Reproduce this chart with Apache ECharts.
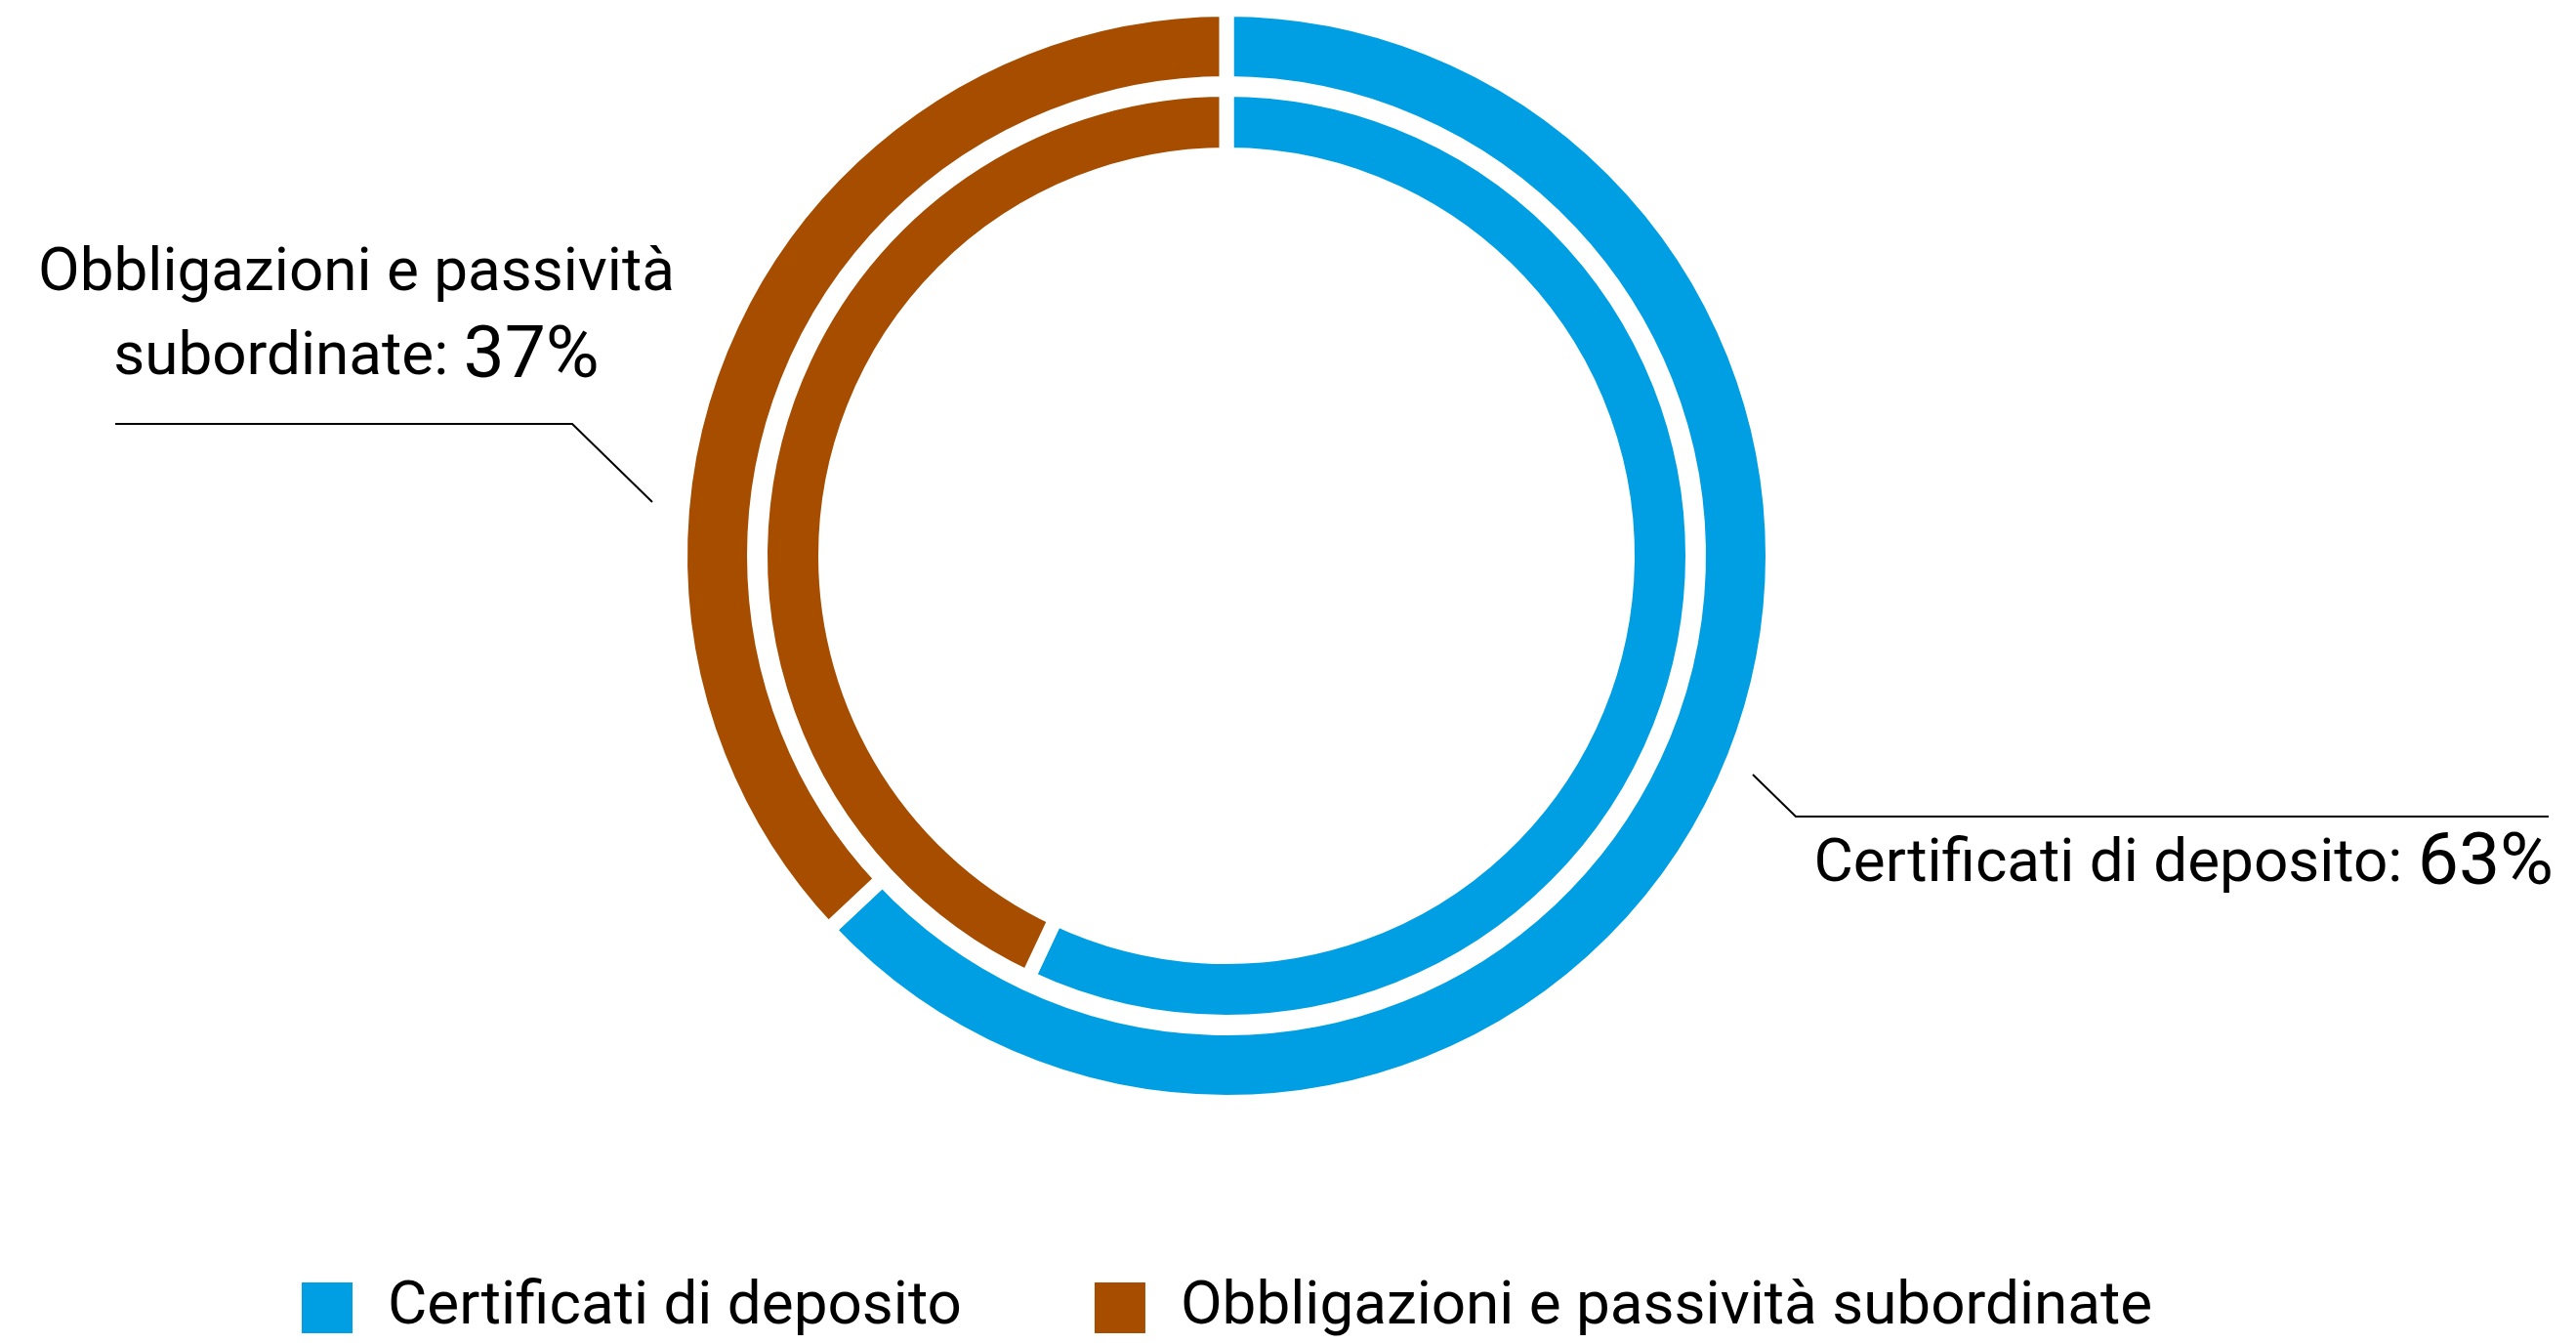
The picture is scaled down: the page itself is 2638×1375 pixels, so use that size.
<!DOCTYPE html>
<html>
<head>
<meta charset="utf-8">
<title>Certificati di deposito / Obbligazioni</title>
<script src="https://cdn.jsdelivr.net/npm/echarts@6/dist/echarts.min.js"></script>
<style>
  html, body { margin: 0; padding: 0; background: #fff; }
  #chart { width: 2638px; height: 1375px; }
</style>
</head>
<body>
<div id="chart"></div>
<script>
// categories and values
var categories = ['Certificati di deposito', 'Obbligazioni e passività subordinate'];
var outerValues = [63, 37];   // anello esterno (etichettato)
var innerValues = [57, 43];   // anello interno
var colors = ['#009FE3', '#A64D00'];

var chart = echarts.init(document.getElementById('chart'));

// il bordo bianco crea lo spazio tra le fette, per questo i raggi sono allargati di metà bordo
var GAP = 15;

function toData(values) {
  return categories.map(function (name, i) {
    return { name: name, value: values[i] };
  });
}

chart.setOption({
  animation: false,
  color: colors,
  textStyle: { fontFamily: 'Roboto' },
  legend: {
    data: categories,
    left: 302,
    top: 1303,
    icon: 'rect',
    itemWidth: 54,
    itemHeight: 54,
    itemGap: 134,
    textStyle: {
      fontSize: 62,
      color: '#000',
      fontFamily: 'Roboto',
      padding: [0, 0, 0, 30]
    }
  },
  series: [
    {
      type: 'pie',
      center: [1256, 569],
      radius: [418 - GAP / 2, 470 + GAP / 2],
      startAngle: 90,
      silent: true,
      itemStyle: { borderColor: '#fff', borderWidth: GAP, borderJoin: 'bevel' },
      label: { show: false },
      labelLine: { show: false },
      data: toData(innerValues)
    },
    {
      type: 'pie',
      center: [1256, 569],
      radius: [491 - GAP / 2, 552 + GAP / 2],
      startAngle: 90,
      silent: true,
      itemStyle: { borderColor: '#fff', borderWidth: GAP, borderJoin: 'bevel' },
      label: {
        show: true,
        position: 'outside',
        color: '#000',
        formatter: function (p) {
          var name = p.name.replace(' subordinate', '\nsubordinate');
          return '{t|' + name + ': }{p|' + p.value + '%}';
        },
        rich: {
          t: { fontSize: 62, lineHeight: 86, color: '#000', fontFamily: 'Roboto' },
          p: { fontSize: 75, lineHeight: 86, color: '#000', fontFamily: 'Roboto' }
        }
      },
      labelLine: {
        show: true,
        lineStyle: { color: '#000', width: 2 }
      },
      labelLayout: function (p) {
        if (p.dataIndex === 0) {
          return {
            x: 2615, y: 886, align: 'right', verticalAlign: 'middle',
            labelLinePoints: [[1795, 793], [1839, 836], [2610, 836]]
          };
        }
        return {
          x: 365, y: 324, align: 'center', verticalAlign: 'middle',
          labelLinePoints: [[668, 514], [586, 434], [118, 434]]
        };
      },
      data: toData(outerValues)
    }
  ]
});
</script>
</body>
</html>
